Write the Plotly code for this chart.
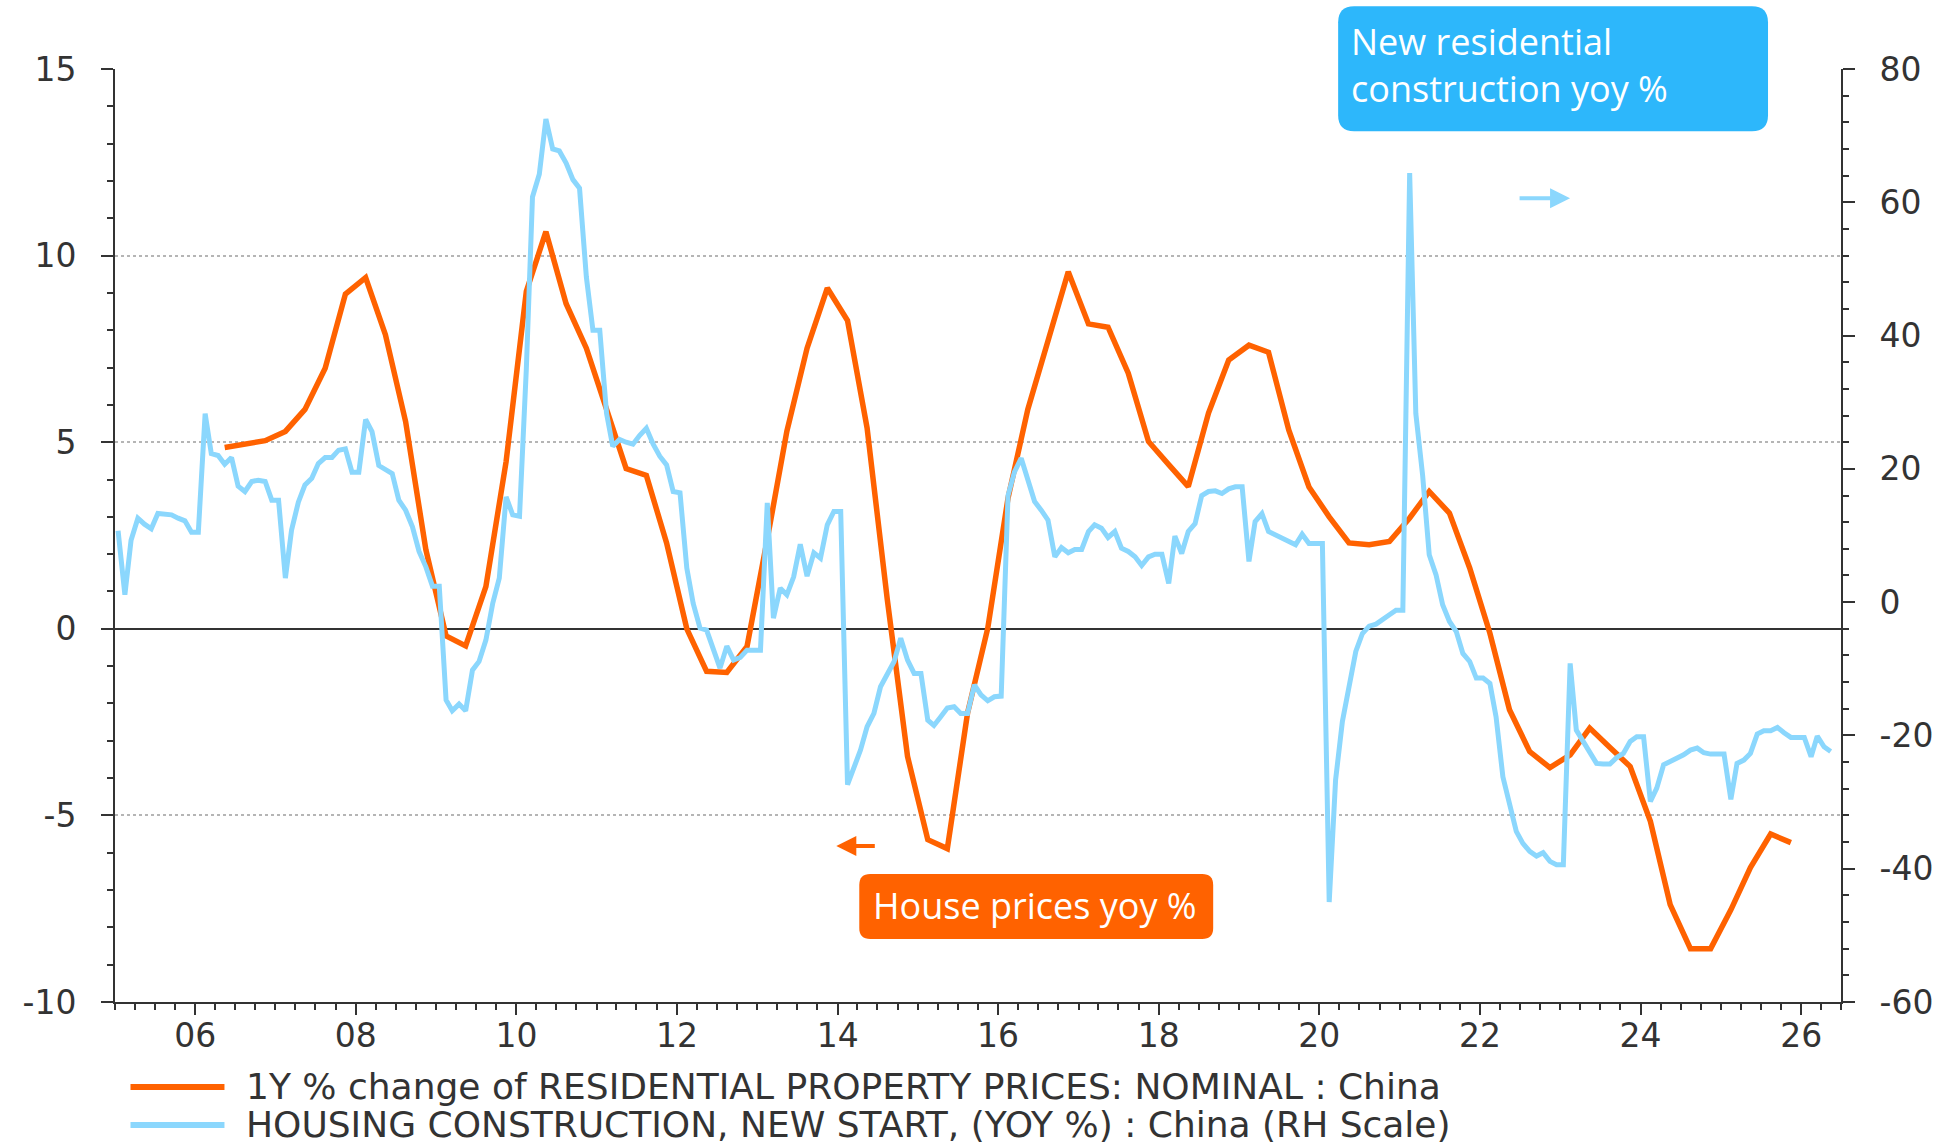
import pandas as pd
import plotly.graph_objects as go

# ---- data -----------------------------------------------------------------
# Residential property prices, % YoY (quarterly, left axis)
price_start = "2006-05-01"
price_yoy = [
    4.86, 4.95, 5.04,
    5.29, 5.88, 6.98, 8.97,
    9.41, 7.88, 5.55, 2.12,
    -0.19, -0.46, 1.13, 4.48,
    9.04, 10.64, 8.71, 7.52,
    5.88, 4.29, 4.11, 2.30,
    0.00, -1.14, -1.17, -0.47,
    2.40, 5.29, 7.52, 9.13,
    8.26, 5.38, 0.78, -3.42,
    -5.65, -5.89, -2.26, 0.02,
    3.50, 5.88, 7.72, 9.57,
    8.17, 8.08, 6.85, 5.02,
    4.40, 3.81, 5.78, 7.20,
    7.60, 7.41, 5.33, 3.80,
    3.00, 2.30, 2.25, 2.34,
    2.97, 3.68, 3.10, 1.63,
    -0.12, -2.17, -3.29, -3.72,
    -3.38, -2.66, -3.18, -3.69,
    -5.16, -7.39, -8.57, -8.57,
    -7.53, -6.40, -5.50, -5.73,
]

# Housing construction new starts, % YoY (monthly, right axis)
starts_start = "2005-01-01"
starts_yoy = [
    10.7, 1.1, 9.3, 12.6, 11.7, 11.0, 13.3, 13.2, 13.1, 12.6, 12.2, 10.5,
    10.5, 28.3, 22.3, 22.0, 20.7, 21.7, 17.4, 16.6, 18.1, 18.3, 18.1, 15.3,
    15.3, 3.6, 10.8, 15.0, 17.6, 18.6, 20.8, 21.7, 21.7, 22.8, 23.0, 19.5,
    19.5, 27.4, 25.6, 20.5, 19.9, 19.3, 15.3, 13.8, 11.3, 7.6, 5.3, 2.4,
    2.4, -14.7, -16.3, -15.3, -16.3, -10.2, -8.9, -5.7, -0.2, 3.6, 15.8, 13.1,
    12.9, 35.0, 60.8, 64.2, 72.5, 68.0, 67.7, 65.9, 63.4, 62.1, 48.8, 40.8,
    40.8, 28.3, 23.4, 24.4, 24.0, 23.7, 25.0, 26.1, 23.7, 21.9, 20.6, 16.6,
    16.4, 5.1, -0.2, -3.9, -4.2, -7.2, -9.9, -6.6, -8.7, -8.3, -7.2, -7.2,
    -7.2, 14.9, -2.4, 2.1, 1.1, 3.8, 8.7, 3.9, 7.4, 6.6, 11.6, 13.6,
    13.6, -27.4, -24.7, -22.2, -18.7, -16.7, -12.7, -10.7, -8.9, -5.4, -8.7, -10.7,
    -10.7, -17.7, -18.5, -17.2, -15.9, -15.7, -16.7, -16.7, -12.4, -13.9, -14.8, -14.2,
    -14.1, 16.0, 19.5, 21.6, 18.5, 15.1, 13.8, 12.3, 6.8, 8.2, 7.4, 7.9,
    7.9, 10.6, 11.6, 11.1, 9.7, 10.6, 8.1, 7.6, 6.8, 5.5, 6.8, 7.2,
    7.2, 2.8, 9.9, 7.3, 10.6, 11.8, 16.0, 16.6, 16.7, 16.3, 17.0, 17.3,
    17.3, 6.1, 12.1, 13.3, 10.6, 10.1, 9.6, 9.1, 8.6, 10.2, 8.8, 8.8,
    8.8, -45.0, -26.7, -17.9, -12.7, -7.4, -4.7, -3.6, -3.3, -2.7, -1.9, -1.2,
    -1.2, 64.4, 28.3, 19.0, 7.1, 4.1, -0.4, -2.9, -4.4, -7.7, -8.9, -11.4,
    -11.4, -12.2, -17.2, -26.2, -30.2, -34.4, -36.2, -37.4, -38.1, -37.6, -38.9, -39.4,
    -39.4, -9.2, -19.2, -20.9, -22.6, -24.2, -24.3, -24.3, -23.3, -22.7, -20.9, -20.2,
    -20.2, -29.9, -27.9, -24.4, -23.9, -23.4, -22.9, -22.2, -21.9, -22.6, -22.8, -22.8,
    -22.8, -29.6, -24.2, -23.7, -22.7, -19.8, -19.3, -19.3, -18.8, -19.6, -20.3, -20.3,
    -20.3, -23.2, -20.1, -21.7, -22.4,
]

price_name = "1Y % change of RESIDENTIAL PROPERTY PRICES: NOMINAL : China"
starts_name = "HOUSING CONSTRUCTION, NEW START, (YOY %) : China (RH Scale)"

left_range = [-10, 15]
left_ticks = [-10, -5, 0, 5, 10, 15]
left_labels = ["-10", "-5", "0", "5", "10", "15"]
right_range = [-60, 80]
right_ticks = [-60, -40, -20, 0, 20, 40, 60, 80]
right_labels = ["-60", "-40", "-20", "0", "20", "40", "60", "80"]

# ---- styling ----------------------------------------------------------------
ORANGE = "#FF6200"
LIGHT_BLUE = "#8BD7FD"
BOX_BLUE = "#2DB7FB"
INK = "#333333"
BOX_FONT = "Open Sans"
AXIS_FONT = "DejaVu Sans"

W, H = 1952, 1145
ML, MR, MT, MB = 114.5, 111, 68.7, 143
PW = W - ML - MR
PH = H - MT - MB


def px(x):
    return (x - ML) / PW


def py(y):
    return (H - MB - y) / PH


def rounded_rect(x0, y0, x1, y1, r):
    """SVG path (paper coords) for a rounded rectangle given pixel corners."""
    rx, ry = r / PW, r / PH
    X0, X1 = px(x0), px(x1)
    Yt, Yb = py(y0), py(y1)
    return (
        f"M {X0 + rx},{Yt} L {X1 - rx},{Yt} Q {X1},{Yt} {X1},{Yt - ry} "
        f"L {X1},{Yb + ry} Q {X1},{Yb} {X1 - rx},{Yb} "
        f"L {X0 + rx},{Yb} Q {X0},{Yb} {X0},{Yb + ry} "
        f"L {X0},{Yt - ry} Q {X0},{Yt} {X0 + rx},{Yt} Z"
    )


price_dates = pd.date_range(price_start, periods=len(price_yoy), freq="3MS") + pd.Timedelta(days=14)
starts_dates = pd.date_range(starts_start, periods=len(starts_yoy), freq="MS") + pd.Timedelta(days=14)

fig = go.Figure()
fig.add_trace(go.Scatter(
    x=price_dates, y=price_yoy, name=price_name, mode="lines",
    line=dict(color=ORANGE, width=5.5), yaxis="y",
))
fig.add_trace(go.Scatter(
    x=starts_dates, y=starts_yoy, name=starts_name, mode="lines",
    line=dict(color=LIGHT_BLUE, width=5), yaxis="y2",
))

tickfont = dict(family=AXIS_FONT, size=33, color=INK)

fig.update_layout(
    width=W, height=H,
    margin=dict(l=ML, r=MR, t=MT, b=MB, autoexpand=False),
    paper_bgcolor="white", plot_bgcolor="white",
    showlegend=False,
    xaxis=dict(
        type="date", range=["2005-01-01", "2026-07-01"], automargin=False,
        tick0="2006-01-01", dtick="M24", tickformat="%y",
        ticks="outside", ticklen=11, tickwidth=2, tickcolor=INK,
        minor=dict(dtick="M3", ticks="outside", ticklen=6, tickwidth=1.5, tickcolor=INK, showgrid=False),
        showline=True, linecolor=INK, linewidth=2,
        showgrid=False, zeroline=False, tickfont=tickfont, ticklabelstandoff=-8,
    ),
    yaxis=dict(
        range=left_range, tickvals=left_ticks, ticktext=left_labels, automargin=False,
        ticks="outside", ticklen=12, tickwidth=2, tickcolor=INK,
        minor=dict(dtick=1, tick0=0, ticks="outside", ticklen=6, tickwidth=1.5, tickcolor=INK, showgrid=False),
        showline=True, linecolor=INK, linewidth=2,
        showgrid=True, gridcolor="#b5b5b5", griddash="dot", gridwidth=1.5,
        zeroline=True, zerolinecolor=INK, zerolinewidth=2,
        tickfont=tickfont, ticklabelstandoff=18,
    ),
    yaxis2=dict(
        range=right_range, tickvals=right_ticks, ticktext=right_labels, automargin=False,
        overlaying="y", side="right",
        ticks="outside", ticklen=12, tickwidth=2, tickcolor=INK,
        minor=dict(dtick=4, tick0=0, ticks="outside", ticklen=6, tickwidth=1.5, tickcolor=INK, showgrid=False),
        showline=True, linecolor=INK, linewidth=2,
        showgrid=False, zeroline=False,
        tickfont=tickfont, ticklabelstandoff=18,
    ),
)

shapes = []
annotations = []

# Call-out boxes
shapes.append(dict(type="path", xref="paper", yref="paper", layer="above",
                   path=rounded_rect(1338, 6, 1768, 131, 16),
                   fillcolor=BOX_BLUE, line=dict(width=0)))
shapes.append(dict(type="path", xref="paper", yref="paper", layer="above",
                   path=rounded_rect(859, 874, 1213, 939, 11),
                   fillcolor=ORANGE, line=dict(width=0)))
annotations.append(dict(xref="paper", yref="paper", x=px(1349), y=py(15),
                        xanchor="left", yanchor="top", align="left", showarrow=False,
                        text="New residential<br>construction yoy %",
                        font=dict(family=BOX_FONT, size=36, color="white")))
annotations.append(dict(xref="paper", yref="paper", x=px(1035), y=py(905),
                        xanchor="center", yanchor="middle", showarrow=False,
                        text="House prices yoy %",
                        font=dict(family=BOX_FONT, size=36, color="white")))

# Axis-direction arrows
annotations.append(dict(xref="paper", yref="paper", x=px(836), y=py(846),
                        ax=40, ay=0, axref="pixel", ayref="pixel", text="",
                        showarrow=True, arrowhead=2, arrowsize=1, arrowwidth=4,
                        arrowcolor=ORANGE, standoff=0))
annotations.append(dict(xref="paper", yref="paper", x=px(1570), y=py(198),
                        ax=-52, ay=0, axref="pixel", ayref="pixel", text="",
                        showarrow=True, arrowhead=2, arrowsize=1, arrowwidth=4,
                        arrowcolor=LIGHT_BLUE, standoff=0))

# Legend drawn below the plot
for ypix, color, label in [(1087, ORANGE, price_name), (1125, LIGHT_BLUE, starts_name)]:
    shapes.append(dict(type="line", xref="paper", yref="paper",
                       x0=px(130), x1=px(224), y0=py(ypix), y1=py(ypix),
                       line=dict(color=color, width=6)))
    annotations.append(dict(xref="paper", yref="paper", x=px(244), y=py(ypix),
                            xanchor="left", yanchor="middle", showarrow=False,
                            text=label, font=dict(family=AXIS_FONT, size=36, color=INK)))

fig.update_layout(shapes=shapes, annotations=annotations)

fig.write_html("out.html")
